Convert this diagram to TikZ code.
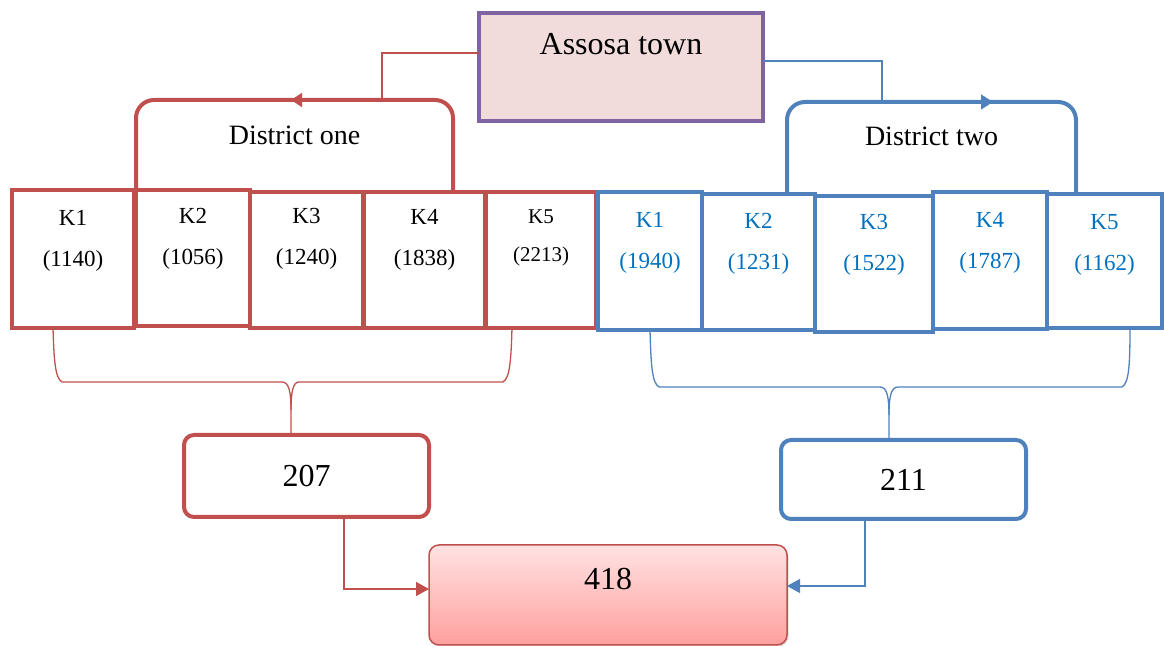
\documentclass[tikz,border=0pt]{standalone}
\usepackage{fontspec}
\setmainfont{Liberation Serif}
\definecolor{districtred}{RGB}{192,80,77}
\definecolor{districtblue}{RGB}{79,129,189}
\definecolor{townpurple}{RGB}{128,100,162}
\definecolor{townpink}{RGB}{242,220,219}
\definecolor{kebeleblue}{RGB}{0,112,192}
\definecolor{totaltop}{RGB}{255,226,226}
\definecolor{totalbottom}{RGB}{255,160,158}
\usetikzlibrary{arrows.meta,positioning,calc,shadows}

\tikzset{
  redbox/.style={draw=districtred, line width=2pt, fill=white, outer sep=0pt, inner sep=0pt},
  bluebox/.style={draw=districtblue, line width=2pt, fill=white, outer sep=0pt, inner sep=0pt},
  ktext/.style={align=center, inner sep=0pt, font=\fontsize{11.5}{20.5}\selectfont},
  titletext/.style={inner sep=0pt, font=\fontsize{14}{17}\selectfont},
  redlink/.style={draw=districtred, line width=0.65pt},
  bluelink/.style={draw=districtblue, line width=0.65pt},
}

\begin{document}
\begin{tikzpicture}[x=0.5pt, y=-0.5pt]
\useasboundingbox (0,0) rectangle (1164,646);

% town
\node[draw=townpurple, line width=2pt, fill=townpink, outer sep=0pt, minimum width=142pt, minimum height=54pt] (town) at (621,67) {};
\node[inner sep=0pt, font=\fontsize{16}{19}\selectfont, below=10pt of town.north] (towntxt) {Assosa town};

% districts
\node[redbox, rounded corners=9pt, minimum width=158.5pt, minimum height=70pt] (d1) at (294.5,170) {};
\node[titletext, below=13pt of d1.north] (d1txt) {District one};
\node[bluebox, rounded corners=9pt, minimum width=144.5pt, minimum height=69pt] (d2) at (931.5,171) {};
\node[titletext, below=12.5pt of d2.north] (d2txt) {District two};

% district one kebeles
\node[redbox, minimum width=61pt, minimum height=69pt] (r1) at (73,259) {};
\node[ktext, below=10pt of r1.north] (r1txt) {K1\\(1140)};
\node[redbox, minimum width=57pt, minimum height=68pt] (r2) at (193,258) {};
\node[ktext, below=9pt of r2.north] (r2txt) {K2\\(1056)};
\node[redbox, minimum width=56.5pt, minimum height=68pt] (r3) at (306.5,260) {};
\node[ktext, below=8pt of r3.north] (r3txt) {K3\\(1240)};
\node[redbox, minimum width=60.5pt, minimum height=68pt] (r4) at (424.5,260) {};
\node[ktext, below=8.5pt of r4.north] (r4txt) {K4\\(1838)};
\node[redbox, minimum width=55pt, minimum height=68pt] (r5) at (541,260) {};
\node[ktext, font=\fontsize{10.5}{19}\selectfont, below=8.5pt of r5.north] (r5txt) {K5\\(2213)};

% district two kebeles
\node[bluebox, minimum width=52pt, minimum height=69pt] (b1) at (650,261) {};
\node[ktext, text=kebeleblue, below=10pt of b1.north] (b1txt) {K1\\(1940)};
\node[bluebox, minimum width=56.5pt, minimum height=68pt] (b2) at (758.5,262) {};
\node[ktext, text=kebeleblue, below=9.5pt of b2.north] (b2txt) {K2\\(1231)};
\node[bluebox, minimum width=59pt, minimum height=68pt] (b3) at (874,264) {};
\node[ktext, text=kebeleblue, below=9pt of b3.north] (b3txt) {K3\\(1522)};
\node[bluebox, minimum width=57pt, minimum height=68.5pt] (b4) at (990,260.5) {};
\node[ktext, text=kebeleblue, below=10pt of b4.north] (b4txt) {K4\\(1787)};
\node[bluebox, minimum width=57.5pt, minimum height=67pt] (b5) at (1104.5,261) {};
\node[ktext, text=kebeleblue, below=10pt of b5.north] (b5txt) {K5\\(1162)};

% samples
\node[redbox, rounded corners=5pt, minimum width=122.5pt, minimum height=41pt, font=\fontsize{16}{19}\selectfont] (n207) at (306.5,476) {207};
\node[bluebox, rounded corners=5pt, minimum width=122.5pt, minimum height=39.5pt, font=\fontsize{16}{19}\selectfont] (n211) at (903.5,479.5) {211};
\node[draw=districtred, line width=0.75pt, rounded corners=5pt, outer sep=0pt, top color=totaltop, bottom color=totalbottom,
      drop shadow={opacity=0.25, shadow xshift=0.8pt, shadow yshift=-0.8pt},
      minimum width=179pt, minimum height=50pt] (n418) at (608,595) {};
\node[inner sep=0pt, font=\fontsize{16}{19}\selectfont, below=11.5pt of n418.north] (n418txt) {418};

% town to districts
\draw[redlink, -{Triangle[length=5.5pt,width=7pt]}] ([yshift=7pt]town.west) -| ([xshift=43.75pt]d1.north) -- ([xshift=-1.75pt]d1.north);
\draw[bluelink, -{Triangle[length=6pt,width=7.5pt]}] ([yshift=3pt]town.east) -| ([xshift=-24.75pt]d2.north) -- ([xshift=30.75pt]d2.north);

% braces
\draw[redlink] ([xshift=-10pt]r1.south) .. controls (54,360) and (55,378) .. (62,382) -- (282,382)
  .. controls (289,382) and (291,392) .. (291,410) -- ([xshift=-7.75pt]n207.north);
\draw[redlink] ([xshift=-14.5pt]r5.south) .. controls (511,360) and (510,378) .. (503,382) -- (299,382)
  .. controls (293,382) and (291,392) .. (291,410);
\draw[bluelink] (b1.south) .. controls (651,365) and (652,383) .. (659,387) -- (880,387)
  .. controls (887,387) and (889,397) .. (889,415) -- ([xshift=-7.25pt]n211.north);
\draw[bluelink] ([xshift=12.75pt]b5.south) .. controls (1130,365) and (1129,383) .. (1122,387) -- (898,387)
  .. controls (891,387) and (889,397) .. (889,415);

% samples to total
\draw[redlink, -{Triangle[length=6.5pt,width=7pt]}] ([xshift=18.75pt]n207.south) |- ([yshift=3pt]n418.west);
\draw[bluelink, -{Triangle[length=6.5pt,width=7pt]}] ([xshift=-19.25pt]n211.south) |- ([yshift=4.5pt]n418.east);
\end{tikzpicture}
\end{document}
